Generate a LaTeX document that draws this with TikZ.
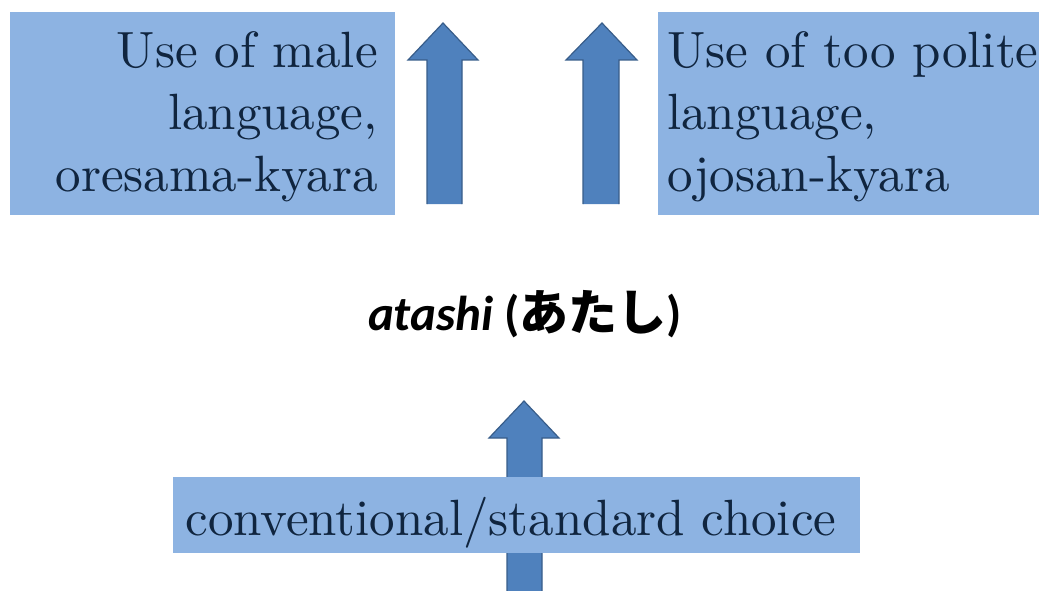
\documentclass[tikz,border=0pt]{standalone}
\usepackage{fontspec}
\newfontfamily\calibri{Carlito}
\newfontfamily\jpfont{Noto Sans CJK JP}
\newfontfamily\lmten{lmroman10-regular.otf}
\definecolor{boxfill}{HTML}{8DB3E2}
\definecolor{arrowfill}{HTML}{4F81BD}
\definecolor{arrowline}{HTML}{385D8A}
\definecolor{boxtext}{HTML}{10253F}
\tikzset{
  bluebox/.style={fill=boxfill, draw=none, inner sep=0pt, anchor=north west},
  boxlabel/.style={inner sep=0pt, text=boxtext, font=\lmten\fontsize{51}{62}\selectfont},
  blockarrow/.style={fill=arrowfill, draw=arrowline, line width=1.2pt, line join=miter},
}
\begin{document}
\begin{tikzpicture}[x=1pt,y=-1pt]
\useasboundingbox (0,0) rectangle (1039,591);
% bottom arrow (behind the box)
\draw[blockarrow] (507,591) -- (507,438) -- (489,438) -- (524,401) -- (559,438) -- (542,438) -- (542,591);
% boxes
\node[bluebox, minimum width=385pt, minimum height=203pt] (lbox) at (10,12) {};
\node[bluebox, minimum width=381pt, minimum height=203pt] (rbox) at (658,12) {};
\node[bluebox, minimum width=687pt, minimum height=76pt] (bbox) at (173,477) {};
% side arrows
\draw[blockarrow] (427,204) -- (427,60) -- (408,60) -- (443,23) -- (478,60) -- (462,60) -- (462,204);
\draw[blockarrow] (583,204) -- (583,60) -- (566,60) -- (602,23) -- (637,60) -- (619,60) -- (619,204);
% texts
\node[boxlabel, anchor=base east] (ltext) at (378,68)
  {\begin{tabular}[t]{@{}r@{}}Use of male\\language,\\oresama-kyara\end{tabular}};
\node[boxlabel, anchor=base west] (rtext) at (667,68)
  {\begin{tabular}[t]{@{}l@{}}Use of too polite\\language,\\ojosan-kyara\end{tabular}};
\node[boxlabel, anchor=base] (btext) at (511,535) {conventional/standard choice};
\node[inner sep=0pt, anchor=base, font=\calibri\bfseries\fontsize{49}{58}\selectfont] (atashi) at (525,330)
  {\itshape atashi\/\upshape{} ({\jpfont\bfseries あたし})};
\end{tikzpicture}
\end{document}
